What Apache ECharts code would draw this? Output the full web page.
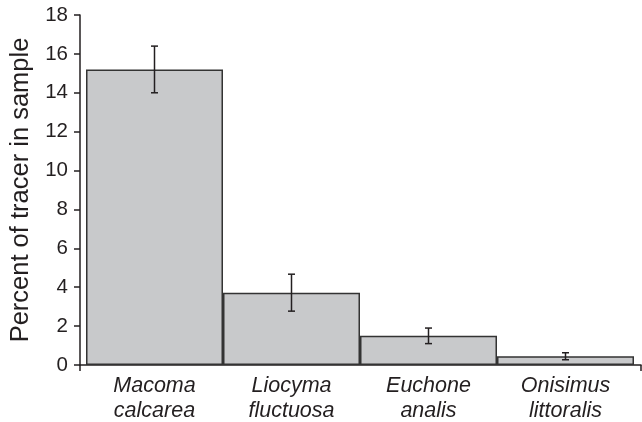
<!DOCTYPE html>
<html>
<head>
<meta charset="utf-8">
<script src="https://cdn.jsdelivr.net/npm/echarts@6/dist/echarts.min.js"></script>
<style>html,body{margin:0;padding:0;background:#fff}#c{width:642px;height:422px}</style>
</head>
<body>
<div id="c"></div>
<script>
var categories = ['Macoma\ncalcarea', 'Liocyma\nfluctuosa', 'Euchone\nanalis', 'Onisimus\nlittoralis'];
var means = [15.2, 3.72, 1.5, 0.45];
var errors = [1.2, 0.95, 0.4, 0.18];
var yTicks = [0, 18, 2];

var chart = echarts.init(document.getElementById('c'), null, {renderer: 'canvas'});
var FONT = 'Liberation Sans, Arial, Helvetica, sans-serif';
var TXT = '#231f20';

var errData = means.map(function (m, i) { return [i, m - errors[i], m + errors[i]]; });

chart.setOption({
  animation: false,
  backgroundColor: '#fff',
  grid: [
    {left: 86, right: 8, top: 15, bottom: 57, containLabel: false, outerBoundsMode: 'none'},
    {left: 80, right: 1, top: 15, bottom: 57, containLabel: false, outerBoundsMode: 'none'}
  ],
  xAxis: [
    {
      type: 'category', gridIndex: 0, data: categories,
      axisLine: {show: false}, axisTick: {show: false},
      axisLabel: {fontFamily: FONT, fontStyle: 'italic', fontSize: 21.5, color: TXT, lineHeight: 25, margin: 9, interval: 0}
    },
    {
      type: 'value', gridIndex: 1, min: 0, max: 1, interval: 1,
      axisLine: {show: true, lineStyle: {color: TXT, width: 1.5}},
      axisTick: {show: true, length: 6, lineStyle: {color: TXT, width: 1.5}},
      axisLabel: {show: false}, splitLine: {show: false}
    }
  ],
  yAxis: [
    {
      type: 'value', gridIndex: 0, min: yTicks[0], max: yTicks[1], interval: yTicks[2], offset: 6,
      name: 'Percent of tracer in sample', nameLocation: 'middle', nameGap: 41,
      nameTextStyle: {fontFamily: FONT, fontSize: 25.5, color: TXT},
      axisLine: {show: true, lineStyle: {color: TXT, width: 1.5}},
      axisTick: {show: true, length: 6, lineStyle: {color: TXT, width: 1.5}},
      axisLabel: {fontFamily: FONT, fontSize: 20.5, color: TXT, margin: 12},
      splitLine: {show: false}
    },
    {type: 'value', gridIndex: 1, min: 0, max: 18, show: false}
  ],
  series: [
    {
      type: 'bar', xAxisIndex: 0, yAxisIndex: 0, data: means, barWidth: '100%',
      itemStyle: {color: '#c8c9cb', borderColor: '#333', borderWidth: 1.5}
    },
    {
      type: 'custom', xAxisIndex: 0, yAxisIndex: 0, data: errData, z: 5,
      renderItem: function (params, api) {
        var lo = api.coord([api.value(0), api.value(1)]);
        var hi = api.coord([api.value(0), api.value(2)]);
        var hw = 3.5;
        var st = {stroke: '#231f20', lineWidth: 1.5, fill: null};
        return {
          type: 'group',
          children: [
            {type: 'line', shape: {x1: lo[0], y1: lo[1], x2: hi[0], y2: hi[1]}, style: st},
            {type: 'line', shape: {x1: lo[0] - hw, y1: lo[1], x2: lo[0] + hw, y2: lo[1]}, style: st},
            {type: 'line', shape: {x1: hi[0] - hw, y1: hi[1], x2: hi[0] + hw, y2: hi[1]}, style: st}
          ]
        };
      }
    }
  ]
});
</script>
</body>
</html>
